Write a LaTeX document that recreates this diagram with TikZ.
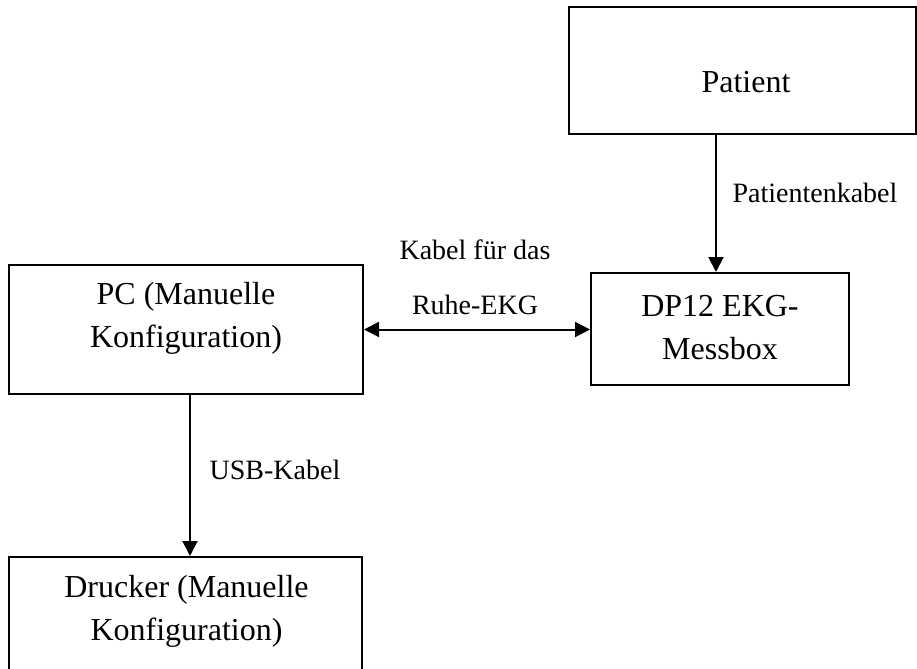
\documentclass[tikz,border=0pt]{standalone}
\usepackage{fontspec}
\setmainfont{Liberation Serif}
\usetikzlibrary{arrows.meta}

\tikzset{
    box/.style={draw, black, line width=1pt, inner sep=0pt},
    boxtext/.style={align=center, font=\fontsize{16}{21.5}\selectfont},
    cable/.style={black, line width=1pt},
    cablelabel/.style={align=center, font=\fontsize{14}{27.5}\selectfont},
}

\begin{document}
\begin{tikzpicture}[x=0.5pt, y=-0.5pt, >={Triangle[length=7.5pt, width=7.5pt]}]
    \path[use as bounding box, clip] (0,0) rectangle (917,669);

    \coordinate (Pat) at (742.5,70.5);
    \coordinate (DP) at (720,329);
    \coordinate (PC) at (186,329.5);
    \coordinate (Dr) at (185.5,621.5);

    \node[box, minimum width=173.5pt, minimum height=63.5pt] (patient) at (Pat) {};
    \node[box, minimum width=129pt, minimum height=56pt] (dp) at (DP) {};
    \node[box, minimum width=177pt, minimum height=64.5pt] (pc) at (PC) {};
    \node[box, minimum width=176.5pt, minimum height=64.5pt] (drucker) at (Dr) {};

    \node[boxtext] (patienttext) at (746,82) {Patient};
    \node[boxtext] (dptext) at (720,327.5) {DP12 EKG-\\Messbox};
    \node[boxtext] (pctext) at (186,318.5) {PC (Manuelle\\Konfiguration)};
    \node[boxtext] (druckertext) at (186.5,611) {Drucker (Manuelle\\Konfiguration)};

    \draw[cable, ->] ([xshift=-2pt]dp.north |- patient.south) to ([xshift=-2pt]dp.north);
    \draw[cable, <->] (pc.east) to (pc.east -| dp.west);
    \draw[cable, ->] ([xshift=2pt]pc.south) to ([xshift=2pt]pc.south |- drucker.north);

    \node[cablelabel] (patkabel) at (815,193) {Patientenkabel};
    \node[cablelabel] (ekgkabel) at (475,277.5) {Kabel für das\\Ruhe-EKG};
    \node[cablelabel] (usbkabel) at (275,470) {USB-Kabel};
\end{tikzpicture}
\end{document}
